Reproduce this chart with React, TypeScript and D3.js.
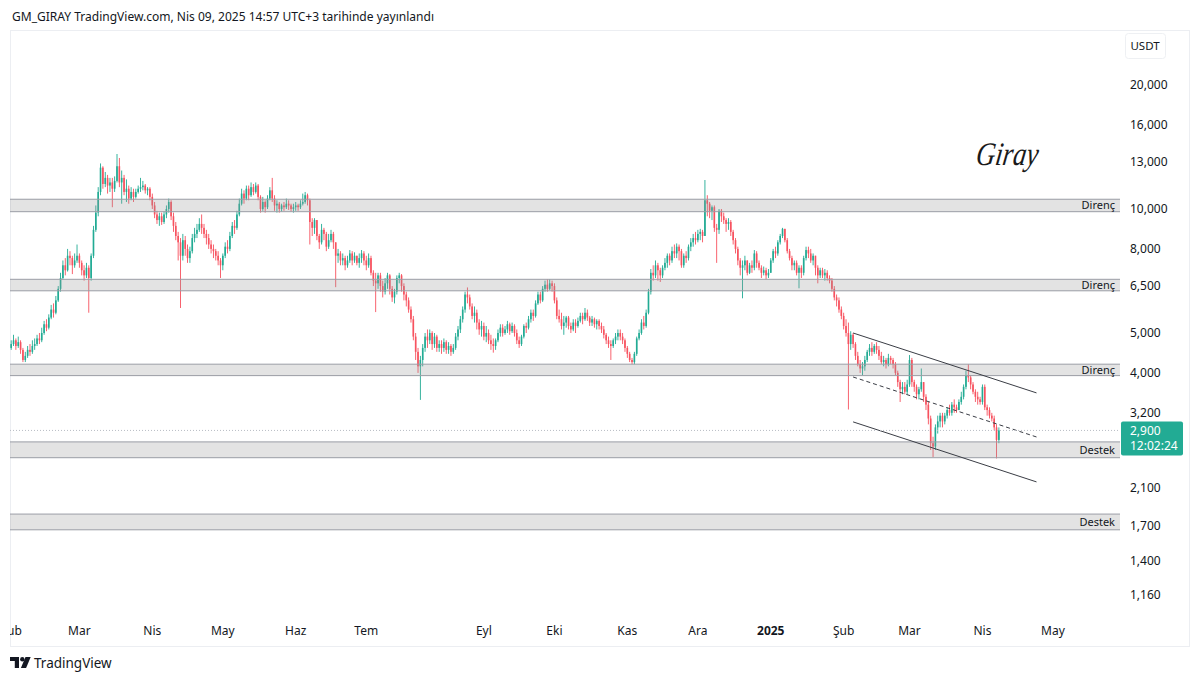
import { useEffect, useRef } from "react";
import * as d3 from "d3";

// daily candles as [high, low, close]; open = previous close
const firstOpen = 4600;

const feb24 = [
  [4800, 4550, 4700], [4950, 4650, 4800], [4850, 4550, 4650], [4900, 4600, 4750], [4800, 4450, 4550],
  [4600, 4250, 4300], [4500, 4250, 4400], [4650, 4350, 4550], [4700, 4400, 4500], [4800, 4450, 4650],
  [4850, 4550, 4700], [4950, 4650, 4850], [5000, 4700, 4800], [5150, 4750, 5000], [5350, 4950, 5250],
  [5400, 5050, 5150], [5550, 5100, 5450], [5850, 5400, 5700], [5900, 5450, 5600], [6150, 5550, 6000],
  [6500, 5950, 6400], [7000, 6300, 6800], [7500, 6750, 7300], [7600, 6900, 7100], [8000, 7050, 7700],
  [7900, 7300, 7600], [7700, 6950, 7300], [7800, 7200, 7500], [8200, 7400, 7700],
];
const mar24 = [
  [7800, 7200, 7400], [7500, 6900, 7100], [7300, 6700, 6900], [7400, 6800, 7200], [7300, 5600, 6800],
  [7800, 6700, 7700], [9100, 7600, 8900], [10200, 8800, 9800], [11300, 9600, 11000], [12900, 10800, 12600],
  [12700, 11200, 11500], [12300, 11300, 11900], [12100, 10900, 11400], [11900, 11000, 11600], [11900, 10100, 11200],
  [12000, 11000, 11700], [13600, 11600, 12700], [13300, 11300, 11600], [12400, 10300, 11900], [12100, 10800, 11000],
  [11800, 10400, 11200], [11400, 10300, 10600], [11300, 10500, 11000], [11200, 10400, 10700], [11200, 10600, 11000],
  [11400, 10900, 11200], [11900, 11000, 11300], [11700, 11100, 11400], [11500, 10900, 11100], [11300, 10800, 11200],
  [11300, 10500, 10700],
];
const apr24 = [
  [10900, 10000, 10200], [10400, 9500, 9700], [9900, 9200, 9400], [9800, 9100, 9600], [9800, 9150, 9300],
  [9850, 9200, 9700], [10200, 9500, 10000], [10600, 9800, 10400], [10500, 9400, 9600], [9800, 8800, 9100],
  [9300, 8400, 8600], [8800, 7500, 8300], [8500, 5750, 7700], [8700, 7500, 8400], [8600, 7700, 8000],
  [8200, 7400, 7600], [8100, 7400, 7900], [8700, 7800, 8500], [9000, 8300, 8700], [9200, 8500, 8900],
  [9500, 8800, 9200], [9700, 8700, 9000], [9200, 8500, 8700], [8900, 8200, 8500], [8700, 8000, 8200],
  [8400, 7800, 8000], [8200, 7600, 7900], [8000, 7500, 7700], [7900, 7300, 7500], [7600, 6800, 7300],
];
const may24 = [
  [7800, 7100, 7700], [8300, 7600, 8100], [8400, 7800, 8000], [8800, 7900, 8600], [9300, 8500, 9100],
  [9400, 8700, 9000], [9900, 8900, 9700], [10600, 9600, 10300], [11200, 10200, 10900], [11100, 10300, 10600],
  [11400, 10500, 11200], [11400, 10500, 10800], [11600, 10700, 11300], [11500, 10800, 11000], [11600, 10900, 11400],
  [11500, 10500, 10700], [10800, 9800, 10000], [10700, 9900, 10400], [10500, 9800, 10100], [10800, 10000, 10600],
  [11300, 10500, 11100], [11900, 10400, 10600], [10800, 9900, 10200], [10500, 9800, 10300], [10400, 9800, 10000],
  [10300, 9850, 10200], [10400, 9900, 10100], [10600, 10000, 10300], [10500, 9950, 10200], [10300, 9850, 10000],
  [10300, 9800, 10100],
];
const jun24 = [
  [10400, 9900, 10200], [10300, 9900, 10100], [10500, 10000, 10300], [10900, 10200, 10400], [11000, 10300, 10800],
  [10900, 10200, 10500], [10600, 8200, 9300], [9500, 8600, 9000], [9500, 8700, 9400], [9400, 8400, 8600],
  [8700, 8000, 8300], [9200, 8200, 8900], [9000, 8400, 8700], [8800, 7900, 8100], [8700, 8000, 8400],
  [8900, 8300, 8700], [8800, 8000, 8300], [8300, 6460, 7700], [8000, 7400, 7800], [7900, 7300, 7500],
  [7800, 7300, 7600], [7700, 7100, 7300], [7700, 7200, 7500], [7950, 7400, 7800], [7900, 7300, 7500],
  [7850, 7400, 7700], [7700, 7300, 7400], [7800, 7200, 7600], [7950, 7400, 7800], [7900, 7300, 7500],
];
const julAug24 = [
  [7700, 7100, 7300], [7800, 7200, 7600], [7700, 6900, 7000], [7100, 6500, 6700], [7000, 5620, 6600],
  [7000, 6400, 6900], [7000, 6300, 6500], [6700, 6100, 6300], [6800, 6200, 6600], [7000, 6400, 6900],
  [6950, 6200, 6400], [6500, 5950, 6100], [6400, 5900, 6300], [6900, 6200, 6800], [7000, 6600, 6900],
  [6950, 6300, 6500], [6600, 6000, 6200], [6300, 5800, 6000], [6100, 5600, 5700], [5800, 5300, 5400],
  [5500, 4800, 4900], [5000, 4300, 4500], [4600, 4000, 4150], [4400, 3440, 4300], [4700, 4150, 4600],
  [5000, 4500, 4900], [5100, 4600, 4800], [5100, 4700, 5000], [5050, 4550, 4700], [5000, 4600, 4900],
  [4950, 4500, 4600], [4800, 4500, 4700], [4800, 4450, 4600], [4850, 4500, 4750], [4800, 4450, 4550],
  [4750, 4450, 4650], [4700, 4400, 4500], [4700, 4450, 4600], [5000, 4550, 4900], [5200, 4800, 5100],
  [5500, 5000, 5400], [5800, 5300, 5700], [6300, 5600, 6200], [6450, 5900, 6100], [6200, 5700, 5800],
  [5900, 5400, 5500], [5800, 5300, 5600], [5700, 5100, 5300], [5400, 4950, 5100], [5350, 4900, 5200],
];
const sep24 = [
  [5300, 4800, 4900], [5200, 4750, 5000], [5100, 4700, 4800], [4950, 4550, 4700], [4850, 4480, 4650],
  [4850, 4550, 4800], [5100, 4750, 5000], [5250, 4900, 5150], [5250, 4900, 5000], [5200, 4950, 5100],
  [5350, 5000, 5250], [5300, 4950, 5050], [5300, 5000, 5200], [5250, 4900, 5000], [5100, 4700, 4800],
  [4900, 4600, 4700], [4950, 4650, 4900], [5250, 4850, 5200], [5300, 5000, 5150], [5500, 5100, 5400],
  [5700, 5300, 5600], [5700, 5350, 5500], [6000, 5450, 5900], [6300, 5850, 6200], [6300, 5900, 6000],
  [6500, 5950, 6400], [6700, 6300, 6550], [6750, 6300, 6400], [6750, 6350, 6600], [6700, 6300, 6500],
];
const oct24 = [
  [6600, 5900, 6000], [6100, 5400, 5500], [5700, 5300, 5400], [5600, 5100, 5200], [5500, 4950, 5300],
  [5500, 5150, 5450], [5500, 5100, 5200], [5300, 5000, 5100], [5400, 5050, 5300], [5400, 5000, 5200],
  [5450, 5150, 5350], [5600, 5300, 5500], [5600, 5250, 5400], [5750, 5350, 5600], [5700, 5350, 5450],
  [5500, 5200, 5300], [5500, 5200, 5400], [5450, 5150, 5250], [5400, 5100, 5350], [5400, 5100, 5200],
  [5300, 5000, 5100], [5200, 4850, 4950], [5000, 4700, 4800], [4900, 4600, 4700], [4800, 4300, 4650],
  [4850, 4600, 4800], [5000, 4700, 4900], [5100, 4800, 5000], [5100, 4800, 4900], [5000, 4700, 4800],
  [4850, 4500, 4600],
];
const nov24 = [
  [4650, 4350, 4450], [4500, 4250, 4300], [4350, 4200, 4250], [4500, 4200, 4450], [4900, 4400, 4850],
  [5100, 4800, 5000], [5400, 4950, 5300], [5500, 5100, 5200], [5700, 5150, 5600], [6400, 5550, 6300],
  [7150, 6200, 7000], [7300, 6700, 6900], [7500, 6800, 7300], [7400, 6700, 7100], [7200, 6650, 6900],
  [7300, 6800, 7200], [7600, 7100, 7400], [7800, 7200, 7700], [7800, 7300, 7500], [8100, 7400, 7900],
  [8200, 7600, 7800], [8250, 7600, 8100], [8200, 7500, 7900], [8000, 7200, 7300], [7800, 7200, 7700],
  [7900, 7400, 7600], [8200, 7500, 8100], [8500, 7900, 8300], [8700, 8100, 8500], [8800, 8200, 8400],
];
const dec24 = [
  [8900, 8300, 8700], [8950, 8400, 8800], [8900, 8300, 8600], [11760, 8600, 10500], [10800, 9600, 10300],
  [10400, 9500, 9900], [10200, 9400, 10100], [10200, 8800, 9000], [9200, 7400, 8900], [10000, 8700, 9900],
  [10000, 9300, 9600], [9800, 9200, 9400], [9500, 8800, 9200], [9500, 8900, 9300], [9400, 8600, 8800],
  [8900, 8200, 8400], [8500, 7800, 8000], [8100, 7300, 7500], [7600, 6900, 7200], [7500, 6070, 7300],
  [7700, 7100, 7500], [7500, 6900, 7000], [7400, 6950, 7300], [7500, 7000, 7200], [7950, 7100, 7800],
  [7900, 7200, 7400], [7500, 7100, 7200], [7300, 6800, 7000], [7250, 6900, 7100], [7200, 6750, 6900],
  [7150, 6800, 7000],
];
const jan25 = [
  [7600, 7000, 7500], [8000, 7400, 7900], [8100, 7600, 7800], [8400, 7700, 8300], [8700, 8200, 8600],
  [9000, 8500, 8950], [8950, 8300, 8400], [8500, 7800, 7900], [8000, 7500, 7600], [7700, 7100, 7300],
  [7500, 7100, 7400], [7500, 6900, 7000], [7300, 6420, 7200], [7300, 6800, 7000], [7700, 6900, 7600],
  [8100, 7500, 7950], [8100, 7600, 7800], [8000, 7400, 7500], [7800, 7300, 7700], [7700, 6900, 7200],
  [7300, 6600, 6900], [7200, 6800, 7100], [7200, 6800, 6900], [7150, 6700, 7000], [7100, 6700, 6800],
  [6900, 6600, 6700], [6800, 6300, 6400], [6500, 6000, 6100], [6200, 5800, 6000], [6100, 5600, 5700],
  [5800, 5400, 5500],
];
const feb25 = [
  [5600, 5100, 5200], [5400, 4900, 5000], [5300, 3260, 4700], [5050, 4550, 4950], [5000, 4600, 4700],
  [4750, 4300, 4400], [4500, 4150, 4200], [4300, 4000, 4100], [4250, 3950, 4150], [4400, 4050, 4300],
  [4550, 4250, 4500], [4700, 4400, 4600], [4750, 4400, 4500], [4700, 4450, 4650], [4750, 4450, 4550],
  [4650, 4300, 4400], [4500, 4200, 4250], [4400, 4150, 4300], [4350, 4100, 4200], [4450, 4150, 4350],
  [4400, 4200, 4300], [4350, 4100, 4200], [4250, 3950, 4000], [4050, 3700, 3800], [3850, 3400, 3650],
  [3800, 3550, 3700], [3800, 3550, 3600], [3850, 3550, 3750],
];
const mar25 = [
  [4420, 3700, 4300], [4350, 3700, 3800], [3850, 3600, 3700], [3750, 3450, 3550], [3700, 3450, 3650],
  [4100, 3600, 3800], [3800, 3400, 3500], [3550, 3250, 3350], [3400, 3000, 3100], [3150, 2600, 2700],
  [2800, 2500, 2650], [3000, 2600, 2950], [3150, 2850, 3050], [3200, 2950, 3150], [3200, 2950, 3050],
  [3200, 3000, 3150], [3300, 3100, 3250], [3350, 3150, 3200], [3400, 3150, 3350], [3450, 3200, 3300],
  [3350, 3200, 3250], [3450, 3250, 3400], [3600, 3350, 3500], [3750, 3450, 3700], [4050, 3650, 3950],
  [4200, 3800, 3900], [3950, 3650, 3750], [3800, 3550, 3600], [3650, 3400, 3500], [3600, 3350, 3450],
  [3500, 3350, 3400],
];
const apr25 = [
  [3750, 3350, 3700], [3750, 3250, 3300], [3350, 3150, 3250], [3300, 3100, 3150], [3200, 3050, 3100],
  [3150, 2900, 2950], [3000, 2480, 2750], [2950, 2700, 2900],
];

// month labels on the time axis, keyed by candle index
const timeLabels = ["Şub", "Mar", "Nis", "May", "Haz", "Tem", "Eyl", "Eki", "Kas", "Ara", "2025", "Şub", "Mar", "Nis", "May"];
const timeIndex = [0, 29, 60, 90, 121, 151, 201, 231, 262, 292, 323, 354, 382, 413, 443];

const priceTicks = [20000, 16000, 13000, 10000, 8000, 6500, 5000, 4000, 3200, 2100, 1700, 1400, 1160];

// horizontal zones [top, bottom]
const zoneTops = [10560, 6750, 4200, 2720, 1817];
const zoneBottoms = [9850, 6330, 3940, 2490, 1664];
const zoneLabels = ["Direnç", "Direnç", "Direnç", "Destek", "Destek"];

// falling channel: [startIndex, startPrice, endIndex, endPrice]
const channelLines = [
  [358, 5000, 436, 3577],
  [358, 3910, 436, 2796],
  [358, 3042, 436, 2175],
];
const channelDashed = [false, true, false];

const countdown = "12:02:24";

const W = 1200;
const H = 682;
const SLOTS = 472;
const UP = "#22ab94";
const DOWN = "#f7525f";
const FONT = "'Noto Sans', 'DejaVu Sans', sans-serif";

export default function App() {
  const svgRef = useRef<SVGSVGElement>(null);

  useEffect(() => {
    if (!svgRef.current) return;
    const svg = d3.select(svgRef.current);
    svg.selectAll("*").remove();

    const plot = { left: 10, right: 1120, top: 30, bottom: 615 };

    const rows = [feb24, mar24, apr24, may24, jun24, julAug24, sep24, oct24, nov24, dec24, jan25, feb25, mar25, apr25].flat();
    const data = rows.map((r, i) => ({
      i,
      o: i === 0 ? firstOpen : rows[i - 1][2],
      h: r[0],
      l: r[1],
      c: r[2],
    }));

    const x = d3.scaleLinear().domain([-0.5, SLOTS - 0.5]).range([plot.left, plot.right]);
    const y = d3.scaleLog().domain([1000, 20000]).range([620.9, 85]);
    const step = x(1) - x(0);
    const bodyW = step * 0.7;

    svg.append("rect").attr("width", W).attr("height", H).attr("fill", "#fff");

    const defs = svg.append("defs");
    defs
      .append("clipPath")
      .attr("id", "plotClip")
      .append("rect")
      .attr("x", plot.left)
      .attr("y", plot.top)
      .attr("width", plot.right - plot.left)
      .attr("height", 617);

    // frame
    svg
      .append("rect")
      .attr("x", 10.5)
      .attr("y", 30.5)
      .attr("width", 1179)
      .attr("height", 616)
      .attr("fill", "none")
      .attr("stroke", "#eceef2");

    // header
    svg
      .append("text")
      .attr("x", 12)
      .attr("y", 21)
      .attr("font-family", FONT)
      .attr("font-size", 12.5)
      .attr("fill", "#131722")
      .attr("textLength", 422)
      .attr("lengthAdjust", "spacingAndGlyphs")
      .text("GM_GIRAY TradingView.com, Nis 09, 2025 14:57 UTC+3 tarihinde yayınlandı");

    const g = svg.append("g").attr("clip-path", "url(#plotClip)");

    // candles
    const candle = g
      .selectAll("g.candle")
      .data(data)
      .join("g")
      .attr("class", "candle")
      .attr("fill", (d) => (d.c >= d.o ? UP : DOWN));

    candle
      .append("rect")
      .attr("x", (d) => x(d.i) - 0.45)
      .attr("y", (d) => y(d.h))
      .attr("width", 0.9)
      .attr("height", (d) => Math.max(0.5, y(d.l) - y(d.h)));

    candle
      .append("rect")
      .attr("x", (d) => x(d.i) - bodyW / 2)
      .attr("y", (d) => y(Math.max(d.o, d.c)))
      .attr("width", bodyW)
      .attr("height", (d) => Math.max(1, Math.abs(y(d.o) - y(d.c))));

    // zones
    zoneTops.forEach((top, k) => {
      const y0 = y(top);
      const y1 = y(zoneBottoms[k]);
      g.append("rect")
        .attr("x", plot.left)
        .attr("y", y0)
        .attr("width", plot.right - plot.left)
        .attr("height", y1 - y0)
        .attr("fill", "rgba(150,150,150,0.27)");
      [y0, y1].forEach((yy) =>
        g
          .append("line")
          .attr("x1", plot.left)
          .attr("x2", plot.right)
          .attr("y1", yy)
          .attr("y2", yy)
          .attr("stroke", "#9a9da5")
          .attr("stroke-width", 1)
      );
      g.append("text")
        .attr("x", plot.right - 5)
        .attr("y", (y0 + y1) / 2)
        .attr("dy", "0.35em")
        .attr("text-anchor", "end")
        .attr("font-family", FONT)
        .attr("font-size", 11)
        .attr("fill", "#131722")
        .text(zoneLabels[k]);
    });

    // channel
    channelLines.forEach((c, k) => {
      g.append("line")
        .attr("x1", x(c[0]))
        .attr("y1", y(c[1]))
        .attr("x2", x(c[2]))
        .attr("y2", y(c[3]))
        .attr("stroke", "#3a3d45")
        .attr("stroke-width", 1)
        .attr("stroke-dasharray", channelDashed[k] ? "4,3" : null);
    });

    // last price line
    const last = data[data.length - 1];
    const py = y(last.c);
    g.append("line")
      .attr("x1", plot.left)
      .attr("x2", plot.right)
      .attr("y1", py)
      .attr("y2", py)
      .attr("stroke", "#b8bcc4")
      .attr("stroke-dasharray", "1,2");

    // signature
    svg
      .append("text")
      .attr("transform", "translate(975,165) skewX(-8)")
      .attr("font-family", "'Liberation Serif', 'DejaVu Serif', serif")
      .attr("font-style", "italic")
      .attr("font-size", 33)
      .attr("fill", "#1a1a1a")
      .attr("textLength", 62)
      .attr("lengthAdjust", "spacingAndGlyphs")
      .text("Giray");

    // price axis
    svg
      .append("rect")
      .attr("x", 1125.5)
      .attr("y", 33.5)
      .attr("width", 40)
      .attr("height", 25)
      .attr("rx", 3)
      .attr("fill", "#fff")
      .attr("stroke", "#eef0f3");
    svg
      .append("text")
      .attr("x", 1145)
      .attr("y", 46)
      .attr("dy", "0.35em")
      .attr("text-anchor", "middle")
      .attr("font-family", FONT)
      .attr("font-size", 11.5)
      .attr("fill", "#131722")
      .text("USDT");

    svg
      .append("g")
      .selectAll("text")
      .data(priceTicks)
      .join("text")
      .attr("x", 1130)
      .attr("y", (d) => y(d))
      .attr("dy", "0.35em")
      .attr("font-family", FONT)
      .attr("font-size", 12)
      .attr("fill", "#131722")
      .text((d) => d3.format(",")(d));

    // last price label
    svg
      .append("rect")
      .attr("x", 1121)
      .attr("y", py - 9)
      .attr("width", 62)
      .attr("height", 34)
      .attr("rx", 2)
      .attr("fill", UP);
    svg
      .append("text")
      .attr("x", 1130)
      .attr("y", py)
      .attr("dy", "0.35em")
      .attr("font-family", FONT)
      .attr("font-size", 12)
      .attr("fill", "#fff")
      .text(d3.format(",")(last.c));
    svg
      .append("text")
      .attr("x", 1130)
      .attr("y", py + 15)
      .attr("dy", "0.35em")
      .attr("font-family", FONT)
      .attr("font-size", 12)
      .attr("fill", "#fff")
      .text(countdown);

    // time axis
    svg
      .append("g")
      .attr("clip-path", "url(#plotClip)")
      .selectAll("text")
      .data(timeLabels)
      .join("text")
      .attr("x", (_, k) => x(timeIndex[k]))
      .attr("y", 631)
      .attr("dy", "0.35em")
      .attr("text-anchor", "middle")
      .attr("font-family", FONT)
      .attr("font-size", 12)
      .attr("font-weight", (d) => (d === "2025" ? 700 : 400))
      .attr("fill", "#131722")
      .text((d) => d);

    // TradingView logo
    const logo = svg.append("g").attr("fill", "#131722");
    logo.append("path").attr("d", "M10 657h9v11h-4.2v-7H10z");
    logo.append("circle").attr("cx", 22.3).attr("cy", 659.2).attr("r", 2.2);
    logo.append("path").attr("d", "M25.5 657h5.2l-4.6 11h-5.2z");
    logo
      .append("text")
      .attr("x", 34)
      .attr("y", 668)
      .attr("font-family", FONT)
      .attr("font-size", 13.5)
      .attr("fill", "#131722")
      .text("TradingView");
  }, []);

  return <svg ref={svgRef} width={W} height={H} style={{ position: "absolute", left: 0, top: 0 }} />;
}
